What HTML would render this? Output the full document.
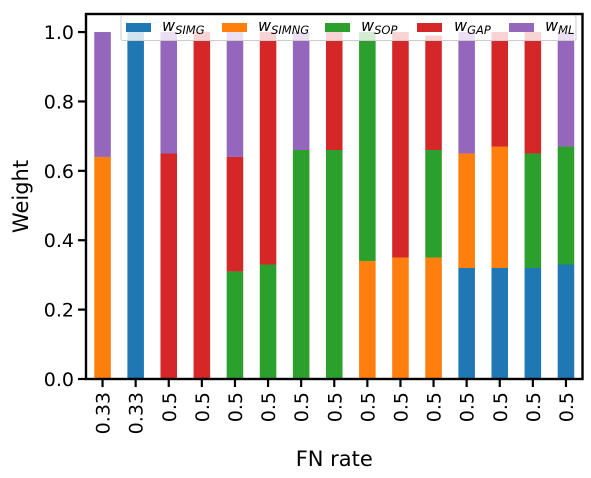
<!DOCTYPE html>
<html><head><meta charset="utf-8"><style>
html,body{margin:0;padding:0;background:#fff;}
svg{display:block;font-family:"DejaVu Sans","Liberation Sans",sans-serif;}
</style></head><body>
<svg id="chart" width="591" height="478" viewBox="0 0 591 478"></svg>
<script>
const categories = ["0.33","0.33","0.5","0.5","0.5","0.5","0.5","0.5","0.5","0.5","0.5","0.5","0.5","0.5","0.5"];
const wSIMG  = [0,1.0,0,0,0,0,0,0,0,0,0,0.32,0.32,0.32,0.33];
const wSIMNG = [0.64,0,0,0,0,0,0,0,0.34,0.35,0.35,0.33,0.35,0,0];
const wSOP   = [0,0,0,0,0.31,0.33,0.66,0.66,0.66,0,0.31,0,0,0.33,0.34];
const wGAP   = [0,0,0.65,1.0,0.33,0.67,0,0.34,0,0.65,0.33,0,0.33,0.35,0];
const wML    = [0.36,0,0.35,0,0.36,0,0.34,0,0,0,0,0.35,0,0,0.33];
const yTicks = [0.0,0.2,0.4,0.6,0.8,1.0];
const seriesNames = ["SIMG","SIMNG","SOP","GAP","ML"];
const seriesColors = ["#1f77b4","#ff7f0e","#2ca02c","#d62728","#9467bd"];

const NS="http://www.w3.org/2000/svg";
const svg=document.getElementById('chart');
const L=86,R=582.5,T=14,B=379;
const yMax=1.052;
function x(i){return L+(i+0.5)*(R-L)/categories.length;}
function y(v){return B-v*(B-T)/yMax;}
function el(tag,attrs,parent){const e=document.createElementNS(NS,tag);for(const k in attrs)e.setAttribute(k,attrs[k]);(parent||svg).appendChild(e);return e;}
const series=[wSIMG,wSIMNG,wSOP,wGAP,wML];
const bw=0.5*(R-L)/categories.length;
const barsG=el('g',{});


for(let i=0;i<categories.length;i++){
  let base=0;
  for(let s=0;s<series.length;s++){
    const v=series[s][i];
    if(v>0){
      const r=el('rect',{x:x(i)-bw/2,y:y(base+v),width:bw,height:y(base)-y(base+v),fill:seriesColors[s]},barsG);
      
      
    }
    base+=v;
  }
}
const frame=el('rect',{x:L,y:T,width:R-L,height:B-T,fill:'none',stroke:'#000','stroke-width':2.4});


for(const t of yTicks){
  const ln=el('line',{x1:L-8,x2:L,y1:y(t),y2:y(t),stroke:'#000','stroke-width':2.2});
  
  
  const tx=el('text',{x:L-12,y:y(t)+7,'text-anchor':'end','font-size':19});
  tx.textContent=t.toFixed(1);
  
  
}
for(let i=0;i<categories.length;i++){
  const ln=el('line',{x1:x(i),x2:x(i),y1:B,y2:B+8,stroke:'#000','stroke-width':2.2});
  
  
  const tx=el('text',{x:0,y:0,'text-anchor':'end','font-size':19,transform:`translate(${x(i)+7},${B+13}) rotate(-90)`});
  tx.textContent=categories[i];
  
  
}
const yl=el('text',{x:0,y:0,'text-anchor':'middle','font-size':21,transform:`translate(28,${(T+B)/2}) rotate(-90)`});
yl.textContent='Weight';


const xl=el('text',{x:(L+R)/2,y:466,'text-anchor':'middle','font-size':21});
xl.textContent='FN rate';


const lg=el('g',{});


el('rect',{x:121,y:15.5,width:455,height:25,rx:2,fill:'rgba(255,255,255,0.8)',stroke:'#ccc','stroke-width':1},lg);
const hx=[126,222,325,417,509], lx=[162,258,361,454,545];
for(let s=0;s<5;s++){
  const h=el('rect',{x:hx[s],y:23,width:25,height:9,fill:seriesColors[s]},lg);
  
  
  const t=el('text',{x:lx[s],y:31,'font-size':16,'font-style':'italic'},lg);
  
  
  t.textContent='w';
  const sub=el('tspan',{'font-size':11.5,dy:3},t);
  sub.textContent=seriesNames[s];
}
</script>
</body></html>
